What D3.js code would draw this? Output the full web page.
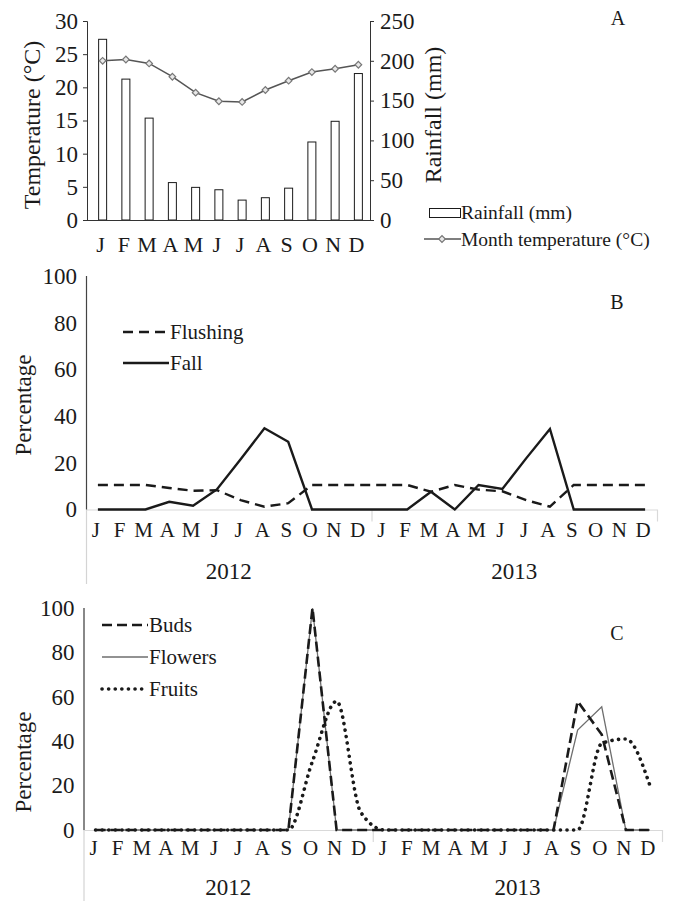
<!DOCTYPE html>
<html>
<head>
<meta charset="utf-8">
<script src="https://cdn.jsdelivr.net/npm/d3@7"></script>
<style>
  body { margin: 0; background: #fff; }
  svg { display: block; }
  svg text { font-family: "Liberation Serif", "Times New Roman", serif; }
</style>
</head>
<body>
<div id="chart"></div>
<script>
// ---- data ----
const months = [`J`, `F`, `M`, `A`, `M`, `J`, `J`, `A`, `S`, `O`, `N`, `D`];
const years = [`2012`, `2013`];

// panel A
const rainfall = [227, 177, 128, 47, 41, 38, 25, 28, 40, 98, 124, 184];
const temperature = [24.0, 24.2, 23.6, 21.6, 19.2, 17.9, 17.8, 19.6, 21.0, 22.3, 22.8, 23.4];
const tempTicks = [0, 5, 10, 15, 20, 25, 30];
const rainTicks = [0, 50, 100, 150, 200, 250];

// panel B (Jan 2012 .. Dec 2013)
const flushing = [10.5, 10.5, 10.5, 9.2, 8.0, 8.3, 4.0, 1.2, 2.7, 10.5, 10.5, 10.5,
                  10.5, 10.5, 7.6, 10.5, 8.5, 7.8, 4.0, 1.2, 10.5, 10.5, 10.5, 10.5];
const fall = [0, 0, 0, 3.3, 1.6, 8.6, 21.5, 34.8, 29, 0, 0, 0,
              0, 0, 7.6, 0, 10.5, 8.8, 21.9, 34.5, 0, 0, 0, 0];

// panel C
const buds = [0, 0, 0, 0, 0, 0, 0, 0, 0, 100, 0, 0,
              0, 0, 0, 0, 0, 0, 0, 0, 58, 43, 0, 0];
const flowers = [0, 0, 0, 0, 0, 0, 0, 0, 0, 100, 0, 0,
                 0, 0, 0, 0, 0, 0, 0, 0, 45, 55.5, 0, 0];
const fruits = [0, 0, 0, 0, 0, 0, 0, 0, 0, 31, 58, 8,
                0, 0, 0, 0, 0, 0, 0, 0, 0, 39, 41, 20];
const pctTicks = [0, 20, 40, 60, 80, 100];

const W = 675, H = 901;
const ink = `#1a1a1a`;
const serif = `"Liberation Serif", "Times New Roman", serif`;

const svg = d3.select(`#chart`).append(`svg`)
  .attr(`width`, W)
  .attr(`height`, H);

// small helper so every label gets the serif face
const label = (parent, txt, size) => parent.append(`text`)
  .style(`font-family`, serif)
  .attr(`font-size`, size)
  .attr(`fill`, ink)
  .text(txt);

// ================= Panel A =================
const a = svg.append(`g`).attr(`class`, `panel-a`);
const xA = d3.scaleBand().domain(d3.range(12)).range([91, 370]);
const yT = d3.scaleLinear().domain([0, 30]).range([220, 21]);
const yR = d3.scaleLinear().domain([0, 250]).range([220, 21]);
const cA = i => xA(i) + xA.bandwidth() / 2;

// bars
a.selectAll(`.bar`)
  .data(rainfall)
  .enter().append(`rect`)
    .attr(`class`, `bar`)
    .attr(`x`, (d, i) => cA(i) - 4)
    .attr(`y`, d => yR(d))
    .attr(`width`, 8)
    .attr(`height`, d => yR(0) - yR(d))
    .attr(`fill`, `#fff`)
    .attr(`stroke`, ink)
    .attr(`stroke-width`, 1);

// axes
const leftA = a.append(`g`)
  .attr(`transform`, `translate(87,0)`)
  .call(d3.axisLeft(yT).tickValues(tempTicks).tickSize(4).tickPadding(5));
const rightA = a.append(`g`)
  .attr(`transform`, `translate(370,0)`)
  .call(d3.axisRight(yR).tickValues(rainTicks).tickSize(4).tickPadding(6));
[leftA, rightA].forEach(g => {
  g.selectAll(`path, line`).attr(`stroke`, `#333`);
  g.selectAll(`text`).attr(`font-size`, 23).attr(`fill`, ink).style(`font-family`, serif);
  g.select(`.domain`).attr(`d`, g === leftA ? `M-4,21.5H0.5V220.5` : `M4,21.5H0.5V220.5`);
});

a.append(`line`)
  .attr(`x1`, 87).attr(`x2`, 370)
  .attr(`y1`, 220.5).attr(`y2`, 220.5)
  .attr(`stroke`, `#333`);

months.forEach((m, i) => {
  label(a, m, 22)
    .attr(`x`, cA(i) - 2)
    .attr(`y`, 252)
    .attr(`text-anchor`, `middle`);
});

// temperature line
a.append(`path`)
  .datum(temperature)
  .attr(`d`, d3.line().x((d, i) => cA(i)).y(d => yT(d)))
  .attr(`fill`, `none`)
  .attr(`stroke`, `#555`)
  .attr(`stroke-width`, 1.5);

const diamond = d3.symbol(d3.symbolSquare, 22);
a.selectAll(`.marker`)
  .data(temperature)
  .enter().append(`path`)
    .attr(`class`, `marker`)
    .attr(`d`, diamond)
    .attr(`transform`, (d, i) => `translate(${cA(i)},${yT(d)}) rotate(45)`)
    .attr(`fill`, `#e8e8e8`)
    .attr(`stroke`, `#777`)
    .attr(`stroke-width`, 1.2);

// axis titles
label(a, `Temperature (°C)`, 24)
  .attr(`transform`, `translate(32,125) rotate(-90)`)
  .attr(`text-anchor`, `middle`)
  .attr(`dominant-baseline`, `central`);

label(a, `Rainfall (mm)`, 24)
  .attr(`transform`, `translate(433,115) rotate(-90)`)
  .attr(`text-anchor`, `middle`)
  .attr(`dominant-baseline`, `central`);

// legend
a.append(`rect`)
  .attr(`x`, 429.5).attr(`y`, 208.5)
  .attr(`width`, 31).attr(`height`, 9)
  .attr(`fill`, `#fff`).attr(`stroke`, ink);
label(a, `Rainfall (mm)`, 19.5).attr(`x`, 461).attr(`y`, 219);
a.append(`line`)
  .attr(`x1`, 424).attr(`x2`, 461)
  .attr(`y1`, 239).attr(`y2`, 239)
  .attr(`stroke`, `#555`).attr(`stroke-width`, 1.5);
a.append(`path`)
  .attr(`d`, diamond)
  .attr(`transform`, `translate(442,239) rotate(45)`)
  .attr(`fill`, `#e8e8e8`).attr(`stroke`, `#777`).attr(`stroke-width`, 1.2);
label(a, `Month temperature (°C)`, 19.5).attr(`x`, 461).attr(`y`, 246);

label(a, `A`, 20).attr(`x`, 618).attr(`y`, 25).attr(`text-anchor`, `middle`);

// ================= Panels B and C =================
const allMonths = months.concat(months);

function phenoPanel(opt) {
  const g = svg.append(`g`);
  const x = d3.scaleBand().domain(d3.range(24)).range([opt.left, opt.right]);
  const y = d3.scaleLinear().domain([0, 100]).range([opt.base, opt.top]);
  const cx = i => x(i) + x.bandwidth() / 2;

  // axis extension under the category labels
  g.append(`line`)
    .attr(`x1`, opt.left + 0.5).attr(`x2`, opt.left + 0.5)
    .attr(`y1`, opt.base).attr(`y2`, opt.axisEnd)
    .attr(`stroke`, `#d4d4d4`).attr(`stroke-width`, 1.2);

  // category axis line and group ticks
  g.append(`line`)
    .attr(`x1`, opt.left).attr(`x2`, opt.right)
    .attr(`y1`, opt.base + 0.5).attr(`y2`, opt.base + 0.5)
    .attr(`stroke`, `#d9d9d9`).attr(`stroke-width`, 1.2);
  [12, 24].forEach(k => {
    const tx = (k === 24 ? opt.right : x(k)) + 0.5;
    g.append(`line`)
      .attr(`x1`, tx).attr(`x2`, tx)
      .attr(`y1`, opt.base).attr(`y2`, opt.base + 12)
      .attr(`stroke`, `#d9d9d9`).attr(`stroke-width`, 1.2);
  });

  // value axis
  const yAxis = g.append(`g`)
    .attr(`transform`, `translate(${opt.left},0)`)
    .call(d3.axisLeft(y).tickValues(pctTicks).tickSize(0).tickPadding(9));
  yAxis.select(`.domain`)
    .attr(`d`, `M0.5,${opt.top}V${opt.base}`)
    .attr(`stroke`, opt.axisColor)
    .attr(`stroke-width`, opt.axisWidth);
  yAxis.selectAll(`text`)
    .attr(`font-size`, 23).attr(`fill`, ink).style(`font-family`, serif);

  allMonths.forEach((m, i) => {
    label(g, m, 21)
      .attr(`x`, cx(i) - 2)
      .attr(`y`, opt.monthY)
      .attr(`text-anchor`, `middle`);
  });

  years.forEach((yr, i) => {
    label(g, yr, 23)
      .attr(`x`, x(i * 12) + x.bandwidth() * 6)
      .attr(`y`, opt.yearY)
      .attr(`text-anchor`, `middle`);
  });

  label(g, `Percentage`, 23)
    .attr(`transform`, `translate(23,${opt.labelY}) rotate(-90)`)
    .attr(`text-anchor`, `middle`)
    .attr(`dominant-baseline`, `central`);

  // draw lines in the given stacking order (z), legend keeps series order
  opt.series.slice().sort((p, q) => (p.z || 0) - (q.z || 0)).forEach(s => {
    g.append(`path`)
      .datum(s.values)
      .attr(`d`, d3.line().curve(s.curve || d3.curveLinear).x((d, i) => cx(i)).y(d => y(d)))
      .attr(`fill`, `none`)
      .attr(`stroke`, s.color)
      .attr(`stroke-width`, s.width)
      .attr(`stroke-dasharray`, s.dash)
      .attr(`stroke-linecap`, s.cap || `butt`);
  });

  // legend
  opt.series.forEach((s, i) => {
    const ly = opt.legendY + i * opt.legendStep;
    g.append(`line`)
      .attr(`x1`, opt.legendX).attr(`x2`, opt.legendX + 46)
      .attr(`y1`, ly).attr(`y2`, ly)
      .attr(`stroke`, s.color)
      .attr(`stroke-width`, s.width)
      .attr(`stroke-dasharray`, s.dash)
      .attr(`stroke-linecap`, s.cap || `butt`);
    label(g, s.name, 21).attr(`x`, opt.legendX + 47).attr(`y`, ly + 7);
  });

  label(g, opt.letter, 20).attr(`x`, 617).attr(`y`, opt.letterY).attr(`text-anchor`, `middle`);
}

phenoPanel({
  left: 86, right: 657, top: 276, base: 509.5, axisEnd: 584,
  axisColor: `#444`, axisWidth: 1.2,
  monthY: 537, yearY: 579, labelY: 405,
  legendX: 123, legendY: 332, legendStep: 31,
  letter: `B`, letterY: 309,
  series: [
    {name: `Flushing`, values: flushing, color: ink, width: 2.4, dash: `10,6`},
    {name: `Fall`, values: fall, color: ink, width: 2.4, dash: null},
  ],
});

phenoPanel({
  left: 83.5, right: 662, top: 608, base: 830, axisEnd: 901,
  axisColor: `#888`, axisWidth: 2,
  monthY: 855, yearY: 895, labelY: 762,
  legendX: 102, legendY: 625, legendStep: 32,
  letter: `C`, letterY: 640,
  series: [
    {name: `Buds`, values: buds, color: ink, width: 2.6, dash: `10,5`, z: 1},
    {name: `Flowers`, values: flowers, color: `#6e6e6e`, width: 1.3, dash: null, z: 0},
    {name: `Fruits`, values: fruits, color: ink, width: 3.6, dash: `0.1,6.5`, cap: `round`, curve: d3.curveMonotoneX, z: 2},
  ],
});
</script>
</body>
</html>
